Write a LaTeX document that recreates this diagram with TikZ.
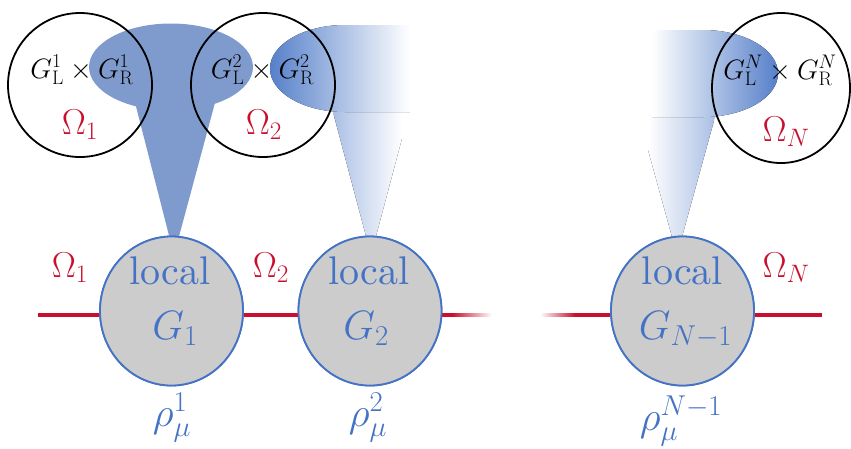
\RequirePackage{fix-cm}
\documentclass[tikz,border=0pt]{standalone}
\usetikzlibrary{shapes.geometric,calc}
\definecolor{cblue}{HTML}{4472C4}
\definecolor{cfill}{HTML}{7F9BCD}
\definecolor{cred}{HTML}{C8102E}
\definecolor{cgray}{HTML}{CCCCCC}
\DeclareMathSizes{28}{28}{19.6}{14}
\DeclareMathSizes{36}{36}{25.2}{18}
\DeclareMathSizes{41}{41}{28.7}{20.5}
\font\localfont="[lmroman10-regular]" at 40pt
\newcommand\smallf{\fontsize{28}{34}\selectfont}
\newcommand\omf{\fontsize{36}{44}\selectfont}
\newcommand\bigf{\fontsize{41}{50}\selectfont}
\tikzset{
  bcirc/.style={draw=black, line width=1.8pt, inner sep=0pt},
  localnode/.style={ellipse, draw=cblue, fill=cgray, line width=1.8pt, inner sep=0pt, minimum width=143pt, minimum height=149pt},
  redline/.style={draw=cred, line width=3.6pt},
  toplabel/.style={anchor=base, inner sep=0pt, font=\smallf, text=black},
  omegain/.style={anchor=base, inner sep=0pt, font=\omf, text=cred},
  bluelabel/.style={anchor=base, inner sep=0pt, font=\bigf, text=cblue},
  localtext/.style={anchor=base, inner sep=0pt, font=\localfont, text=cblue},
}
\begin{document}
\begin{tikzpicture}[x=1pt, y=-1pt]
\useasboundingbox (0,0) rectangle (851,448);

% --- spotlight 1 (solid)
\fill[cfill] (130.5,85) -- (219.8,85) -- (174,255) -- cycle;
\fill[cfill] (171,67) ellipse (82 and 43.5);

% --- spotlight 2 (fading to the right)
\begin{scope}
  \clip (333,112) -- (409,112) -- (371,255) -- cycle;
  \fill[left color=cblue!45, right color=white] (333,112) rectangle (402,255);
\end{scope}
\begin{scope}
  \clip (415,25) -- (345,25) arc[start angle=-90, end angle=-270, x radius=75, y radius=43.5] -- (415,112) -- cycle;
  \fill[left color=cblue!90, right color=white] (270,20) rectangle (410,120);
\end{scope}

% --- spotlight N (fading to the left)
\begin{scope}
  \clip (639,117) -- (715,117) -- (677,255) -- cycle;
  \fill[left color=white, right color=cblue!45] (648,117) rectangle (715,255);
\end{scope}
\begin{scope}
  \clip (645,30) -- (703,30) arc[start angle=-90, end angle=90, x radius=75, y radius=43.5] -- (645,117) -- cycle;
  \fill[left color=white, right color=cblue!90] (652,25) rectangle (778,122);
\end{scope}

% --- black circles
\node[bcirc, circle, minimum size=144pt] (c1) at (80,85) {};
\node[bcirc, circle, minimum size=144pt] (c2) at (263,85) {};
\node[bcirc, ellipse, minimum width=138pt, minimum height=150pt] (cN) at (781,88) {};

\node[toplabel] (t1) at (82,78) {$G^{1}_{\mathrm{L}}\times G^{1}_{\mathrm{R}}$};
\node[toplabel] (t2) at (262.5,78) {$G^{2}_{\mathrm{L}}\times G^{2}_{\mathrm{R}}$};
\node[toplabel] (tN) at (780,79) {$G^{N}_{\mathrm{L}}\times G^{N}_{\mathrm{R}}$};
\node[omegain] (o1) at (80,134) {$\Omega_1$};
\node[omegain] (o2) at (264,134) {$\Omega_2$};
\node[omegain] (oN) at (786,141) {$\Omega_N$};

% --- chain
\coordinate (L0) at (38,315);
\coordinate (R0) at (822,315);
\coordinate (h1) at (452,315);
\coordinate (f1) at (492,315);
\coordinate (f2) at (540,315);
\coordinate (h2) at (575,315);

\node[localnode] (g1) at (171.5,311) {};
\node[localnode] (g2) at (370,311) {};
\node[localnode] (gN) at (682.5,311) {};

\draw[redline] (L0) -- (g1.west |- L0);
\draw[redline] (g1.east |- L0) -- (g2.west |- L0);
\draw[redline] (g2.east |- L0) -- (h1);
\fill[left color=cred, right color=white] ($(h1)+(0,-1.8)$) rectangle ($(f1)+(0,1.8)$);
\fill[left color=white, right color=cred] ($(f2)+(0,-1.8)$) rectangle ($(h2)+(0,1.8)$);
\draw[redline] (h2) -- (gN.west |- L0);
\draw[redline] (gN.east |- L0) -- (R0);

% redraw nodes on top of line ends
\node[localnode] at (g1) {};
\node[localnode] at (g2) {};
\node[localnode] at (gN) {};

\node[localtext] (l1) at (170,284) {local};
\node[localtext] (l2) at (369,284) {local};
\node[localtext] (lN) at (682.5,284) {local};
\node[bluelabel] (G1) at (175,339) {$G_1$};
\node[bluelabel] (G2) at (366,339) {$G_2$};
\node[bluelabel] (GN) at (685.5,339) {$G_{N-1}$};

\node[omegain] (r1) at (70,277) {$\Omega_1$};
\node[omegain] (r2) at (271,277) {$\Omega_2$};
\node[omegain] (rN) at (786,277) {$\Omega_N$};

\node[bluelabel] (p1) at (172,426) {$\rho_\mu^{1}$};
\node[bluelabel] (p2) at (368,426) {$\rho_\mu^{2}$};
\node[bluelabel] (pN) at (681,430) {$\rho_\mu^{N-1}$};
\end{tikzpicture}
\end{document}
